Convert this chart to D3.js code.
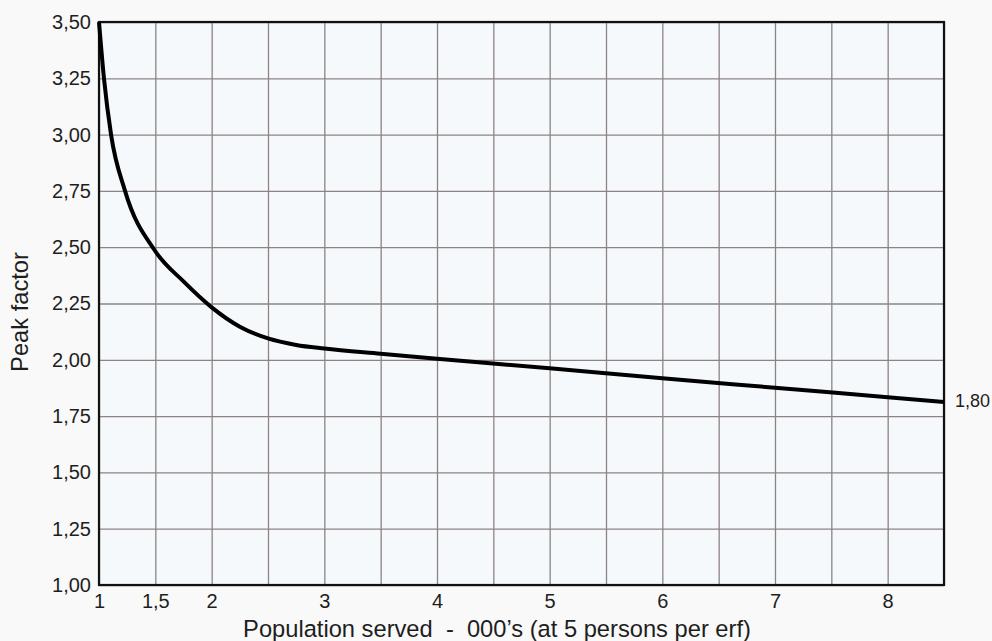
<!DOCTYPE html>
<html>
<head>
<meta charset="utf-8">
<script src="https://cdn.jsdelivr.net/npm/d3@7/dist/d3.min.js"></script>
<style>
  html, body { margin: 0; padding: 0; background: #f9f9f9; }
  svg { display: block; font-family: "Liberation Sans", Arial, Helvetica, sans-serif; }
</style>
</head>
<body>
<svg id="chart" width="992" height="641"></svg>
<script>
// ---- data ----
const popX  = [1.00, 1.044, 1.107, 1.231, 1.5, 1.75, 2.0, 2.25, 2.5, 2.75, 3.0, 3.5, 4.0, 5.0, 6.0, 7.0, 8.0, 8.5];
const peakY = [3.50, 3.25, 3.00, 2.75, 2.482, 2.348, 2.233, 2.147, 2.095, 2.066, 2.05, 2.027, 2.005, 1.962, 1.918, 1.876, 1.834, 1.813];
const xGridTicks  = [1, 1.5, 2, 2.5, 3, 3.5, 4, 4.5, 5, 5.5, 6, 6.5, 7, 7.5, 8, 8.5];
const xLabelTicks = [1, 1.5, 2, 3, 4, 5, 6, 7, 8];
const yTicks = [1.00, 1.25, 1.50, 1.75, 2.00, 2.25, 2.50, 2.75, 3.00, 3.25, 3.50];
const endLabel = "1,80";
const xTitle = "Population served  -  000\u2019s (at 5 persons per erf)";
const yTitle = "Peak factor";

// ---- layout ----
const svg = d3.select("#chart");
const L = 99, R = 944, T = 22, B = 585;
const x = d3.scaleLinear().domain([1, 8.5]).range([L, R]);
const y = d3.scaleLinear().domain([1, 3.5]).range([B, T]);
const comma = s => s.replace(".", ",");

svg.append("rect").attr("x", L).attr("y", T).attr("width", R - L).attr("height", B - T)
  .attr("fill", "#f6f9fc");

// grid
const gx = svg.append("g").attr("transform", `translate(0,${B})`)
  .call(d3.axisBottom(x).tickValues(xGridTicks).tickSize(-(B - T)).tickFormat(""));
const gy = svg.append("g").attr("transform", `translate(${L},0)`)
  .call(d3.axisLeft(y).tickValues(yTicks).tickSize(-(R - L)).tickFormat(""));
[gx, gy].forEach(g => {
  g.select(".domain").remove();
  g.selectAll(".tick line").attr("stroke", "#8d8383").attr("stroke-width", 1.3);
});

// labels
const lx = svg.append("g").attr("transform", `translate(0,${B})`)
  .call(d3.axisBottom(x).tickValues(xLabelTicks).tickSize(0).tickPadding(9)
    .tickFormat(d => comma(String(d))));
const ly = svg.append("g").attr("transform", `translate(${L},0)`)
  .call(d3.axisLeft(y).tickValues(yTicks).tickSize(0).tickPadding(8)
    .tickFormat(d => comma(d3.format(".2f")(d))));
[lx, ly].forEach(g => {
  g.select(".domain").remove();
  g.selectAll("text").attr("fill", "#1e1e1e").style("font-size", "20px")
    .style("font-family", "'Liberation Sans', Arial, sans-serif");
});

// frame
svg.append("rect").attr("x", L).attr("y", T).attr("width", R - L).attr("height", B - T)
  .attr("fill", "none").attr("stroke", "#111").attr("stroke-width", 2.2);

// curve
const pts = popX.map((v, i) => [v, peakY[i]]);
const line = d3.line().x(d => x(d[0])).y(d => y(d[1])).curve(d3.curveMonotoneX);
svg.append("path").datum(pts).attr("d", line)
  .attr("fill", "none").attr("stroke", "#000").attr("stroke-width", 4)
  .attr("stroke-linejoin", "round").attr("stroke-linecap", "butt");

// end label
const last = pts[pts.length - 1];
svg.append("text").attr("x", x(last[0]) + 11).attr("y", y(last[1]))
  .attr("dominant-baseline", "middle").attr("fill", "#1e1e1e").style("font-size", "18px")
  .text(endLabel);

// axis titles
svg.append("text").attr("x", 497).attr("y", 637).attr("text-anchor", "middle")
  .style("white-space", "pre").attr("xml:space", "preserve")
  .attr("fill", "#1e1e1e").style("font-size", "23.7px").text(xTitle);
svg.append("text").attr("transform", "translate(28,312) rotate(-90)").attr("text-anchor", "middle")
  .attr("fill", "#1e1e1e").style("font-size", "23.7px").text(yTitle);
</script>
</body>
</html>
